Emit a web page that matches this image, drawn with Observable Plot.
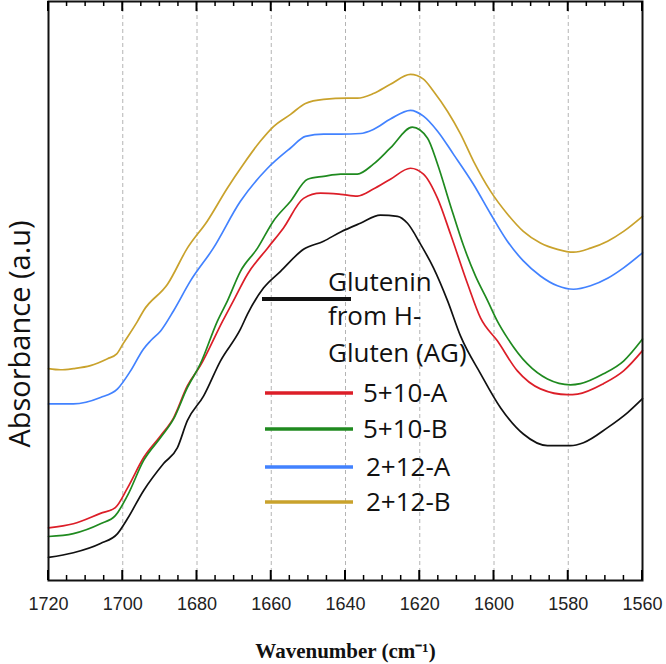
<!DOCTYPE html>
<html><head><meta charset="utf-8">
<script src="https://cdn.jsdelivr.net/npm/d3@7"></script>
<script src="https://cdn.jsdelivr.net/npm/@observablehq/plot@0.6"></script>
<style>
body{margin:0;background:#fff}
#wrap{position:relative;width:666px;height:664px}
#legend{position:absolute;left:0;top:0;pointer-events:none}
</style>
</head><body><div id="wrap"></div>
<script>
// ---- data ----
const seriesNames = ["Glutenin from H-Gluten (AG)", "5+10-A", "5+10-B", "2+12-A", "2+12-B"];
const seriesColors = ["#111111", "#dc1e28", "#1f8a1f", "#4282ff", "#c9a22c"];
const legendLabels = [["Glutenin", "from H-", "Gluten (AG)"], ["5+10-A"], ["5+10-B"], ["2+12-A"], ["2+12-B"]];

const majorTicks = [1720, 1700, 1680, 1660, 1640, 1620, 1600, 1580, 1560];
const minorTicks = [1715, 1710, 1705, 1695, 1690, 1685, 1675, 1670, 1665, 1655, 1650, 1645, 1635, 1630, 1625, 1615, 1610, 1605, 1595, 1590, 1585, 1575, 1570, 1565];

const agWave = [1720, 1713.3, 1706.0, 1701.4, 1698.7, 1694.4, 1689.0, 1685.3, 1682.6, 1678.2, 1673.7, 1668.3, 1666.4, 1662.1, 1657.5, 1651.3, 1645.9, 1641.3, 1636.0, 1630.6, 1626.0, 1623.3, 1619.8, 1616.3, 1612.5, 1609.0, 1603.6, 1598.2, 1592.1, 1585.6, 1579.4, 1575.9, 1569.4, 1564.0, 1560];
const agAbs  = [0.040, 0.048, 0.064, 0.081, 0.107, 0.155, 0.202, 0.229, 0.276, 0.319, 0.379, 0.434, 0.460, 0.505, 0.534, 0.572, 0.586, 0.602, 0.617, 0.631, 0.629, 0.617, 0.581, 0.540, 0.483, 0.422, 0.357, 0.298, 0.253, 0.233, 0.233, 0.238, 0.264, 0.290, 0.314];

const a510Wave = [1720, 1713.3, 1706.0, 1702.0, 1698.7, 1694.4, 1689.8, 1686.3, 1682.6, 1679.1, 1673.1, 1670.2, 1666.4, 1661.0, 1656.7, 1651.3, 1646.7, 1641.3, 1636.8, 1632.5, 1627.9, 1622.5, 1619.0, 1615.2, 1611.7, 1607.1, 1603.6, 1599.1, 1593.7, 1587.5, 1580.2, 1577.5, 1570.5, 1565.1, 1560];
const a510Abs  = [0.091, 0.098, 0.116, 0.126, 0.160, 0.212, 0.250, 0.281, 0.336, 0.371, 0.448, 0.483, 0.529, 0.574, 0.609, 0.660, 0.669, 0.667, 0.664, 0.676, 0.693, 0.712, 0.702, 0.660, 0.598, 0.512, 0.453, 0.414, 0.362, 0.331, 0.321, 0.322, 0.340, 0.362, 0.397];

const b510Wave = [1720, 1713.3, 1706.0, 1702.0, 1698.7, 1694.4, 1689.8, 1686.3, 1682.6, 1679.1, 1674.5, 1671.8, 1668.3, 1663.7, 1659.4, 1654.8, 1650.2, 1645.9, 1641.3, 1636.8, 1632.5, 1627.9, 1622.0, 1617.9, 1615.2, 1611.7, 1608.2, 1605.0, 1601.7, 1599.1, 1596.4, 1591.0, 1585.6, 1579.4, 1576.7, 1570.5, 1565.1, 1560];
const b510Abs  = [0.076, 0.081, 0.098, 0.112, 0.147, 0.207, 0.247, 0.279, 0.333, 0.374, 0.448, 0.483, 0.534, 0.574, 0.621, 0.655, 0.693, 0.698, 0.702, 0.702, 0.719, 0.747, 0.783, 0.764, 0.719, 0.647, 0.578, 0.526, 0.483, 0.448, 0.419, 0.374, 0.348, 0.338, 0.340, 0.357, 0.379, 0.417];

const a212Wave = [1720, 1713.3, 1706.0, 1701.4, 1697.9, 1694.4, 1692.5, 1689.8, 1686.3, 1681.8, 1675.6, 1668.3, 1661.0, 1654.8, 1650.8, 1645.9, 1641.3, 1636.0, 1632.5, 1627.9, 1622.5, 1619.0, 1615.2, 1610.9, 1605.5, 1600.9, 1596.4, 1592.1, 1587.5, 1582.9, 1578.6, 1574.0, 1569.4, 1565.1, 1560];
const a212Abs  = [0.305, 0.305, 0.316, 0.331, 0.362, 0.400, 0.414, 0.431, 0.466, 0.517, 0.574, 0.655, 0.712, 0.747, 0.767, 0.771, 0.771, 0.772, 0.779, 0.797, 0.812, 0.802, 0.776, 0.736, 0.684, 0.633, 0.586, 0.552, 0.526, 0.509, 0.503, 0.509, 0.522, 0.540, 0.566];

const b212Wave = [1720, 1716.8, 1713.3, 1708.7, 1704.1, 1701.7, 1699.8, 1696.0, 1694.4, 1687.9, 1682.6, 1677.2, 1671.8, 1667.5, 1662.9, 1659.4, 1654.8, 1650.8, 1645.9, 1639.5, 1636.8, 1632.5, 1627.9, 1622.5, 1619.0, 1616.3, 1612.5, 1609.0, 1605.5, 1600.9, 1596.4, 1592.1, 1587.5, 1582.9, 1578.6, 1574.0, 1569.4, 1565.1, 1560];
const b212Abs  = [0.366, 0.364, 0.366, 0.371, 0.383, 0.391, 0.410, 0.448, 0.466, 0.512, 0.574, 0.621, 0.678, 0.719, 0.759, 0.784, 0.805, 0.824, 0.831, 0.833, 0.833, 0.841, 0.857, 0.874, 0.866, 0.845, 0.810, 0.771, 0.724, 0.672, 0.633, 0.603, 0.583, 0.572, 0.567, 0.574, 0.586, 0.603, 0.629];

const xTitle = "Wavenumber (cm\u207B\u00B9)";
const yTitle = "Absorbance (a.u)";

// ---- build table ----
const waves = [agWave, a510Wave, b510Wave, a212Wave, b212Wave];
const absorb = [agAbs, a510Abs, b510Abs, a212Abs, b212Abs];
const rows = [];
seriesNames.forEach((name, k) => waves[k].forEach((w, i) => rows.push({series: name, w, a: absorb[k][i]})));

const W = 666, H = 664, mT = 1, mB = 84;
const plain = d => String(d);

const chart = Plot.plot({
  width: W, height: H,
  marginLeft: 48, marginRight: 24, marginTop: mT, marginBottom: mB,
  style: {background: "#fff"},
  x: {domain: [1720, 1560]},
  y: {domain: [0, 1], axis: null},
  color: {domain: seriesNames, range: seriesColors},
  marks: [
    Plot.gridX(majorTicks, {stroke: "#b4b4b4", strokeOpacity: 1, strokeWidth: 1, strokeDasharray: "4,3"}),
    Plot.line(rows, {x: "w", y: "a", z: "series", stroke: "series", strokeWidth: 1.7, curve: "monotone-x"}),
    Plot.axisX({ticks: majorTicks, anchor: "bottom", tickSize: 0, tickPadding: 17, tickFormat: plain, fontSize: 18, fontFamily: "Liberation Sans", label: null, color: "#222"}),
    Plot.frame({stroke: "#111", strokeWidth: 2}),
    Plot.text([xTitle], {frameAnchor: "bottom", dy: 77, fontSize: 21, fontWeight: "bold", fontFamily: "Liberation Serif", fill: "#111"}),
    Plot.text([yTitle], {frameAnchor: "left", rotate: -90, textAnchor: "middle", dx: -28, dy: 43, fontSize: 29, fontFamily: "Open Sans", fill: "#111"})
  ]
});
const wrap = document.getElementById("wrap");
wrap.appendChild(chart);

// ---- overlay: inward ticks (positioned with Plot's own x scale) and legend ----
const xs = chart.scale("x");
const fx = (typeof xs.apply === "function") ? (v => xs.apply(v)) : d3.scaleLinear(xs.domain, xs.range);
const yTop = mT, yBot = H - mB;
const leg = d3.select(wrap).append("svg").attr("id", "legend").attr("width", W).attr("height", H)
  .style("font-family", "'Open Sans', sans-serif").style("font-size", "26px");
const tickG = leg.append("g").attr("stroke", "#000");
[[majorTicks, 10, 2], [minorTicks, 5, 1.5]].forEach(([ticks, len, sw]) => {
  ticks.forEach(v => {
    let px = fx(v);
    if (!Number.isFinite(px)) px = d3.scaleLinear(xs.domain, xs.range)(v);
    tickG.append("line").attr("x1", px).attr("x2", px).attr("y1", yBot).attr("y2", yBot - len).attr("stroke-width", sw);
    tickG.append("line").attr("x1", px).attr("x2", px).attr("y1", yTop).attr("y2", yTop + len).attr("stroke-width", sw);
  });
});

leg.append("line").attr("x1", 262).attr("x2", 351).attr("y1", 299).attr("y2", 299)
  .attr("stroke", seriesColors[0]).attr("stroke-width", 4);
const firstBase = [291, 325, 362];
legendLabels[0].forEach((t, i) => leg.append("text").attr("x", 328).attr("y", firstBase[i]).attr("fill", "#111").text(t));
const rowY = [393, 429, 467, 502];
const rowTextX = [363, 363, 366, 366];
for (let k = 1; k < seriesNames.length; k++) {
  const y = rowY[k - 1];
  leg.append("line").attr("x1", 265).attr("x2", 353).attr("y1", y).attr("y2", y)
    .attr("stroke", seriesColors[k]).attr("stroke-width", 3.5);
  leg.append("text").attr("x", rowTextX[k - 1]).attr("y", y).attr("dy", "0.35em").attr("fill", "#111").text(legendLabels[k][0]);
}
</script>
</body></html>
